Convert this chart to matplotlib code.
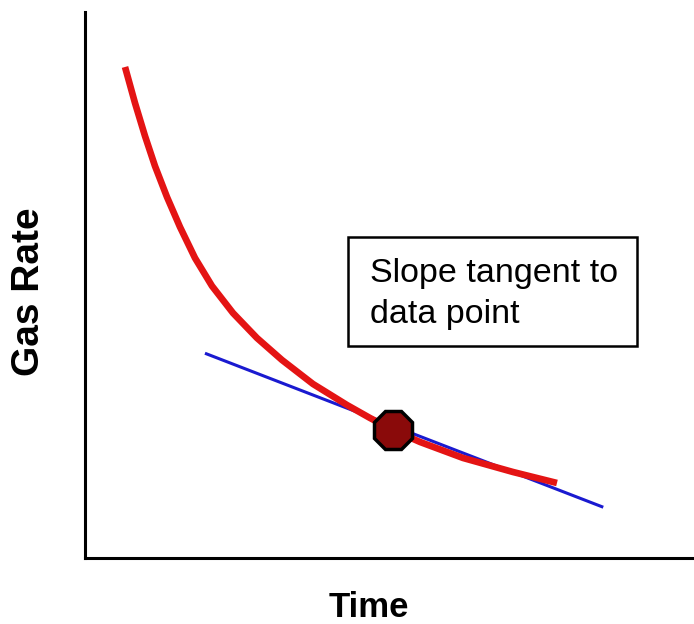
import matplotlib
matplotlib.use("Agg")
import matplotlib.pyplot as plt
from matplotlib.patches import Rectangle

# decline curve (time, gas rate in arbitrary 0-100 units)
curve_t = [6.57, 8.21, 9.85, 11.49, 13.46, 15.60, 18.06, 20.85, 24.30, 28.24,
           32.35, 37.44, 43.02, 46.80, 50.57, 55.01, 62.07, 70.28, 77.50]
curve_q = [89.93, 83.33, 77.29, 71.79, 66.12, 60.62, 54.95, 49.82, 44.87, 40.29,
           36.26, 31.87, 28.02, 25.64, 23.44, 21.25, 18.32, 15.75, 13.74]

# tangent line end points
tan_t = [19.7, 85.1]
tan_q = [37.5, 9.3]

# the data point
pt_t = [50.57]
pt_q = [23.44]

plt.rcParams["font.family"] = ["Liberation Sans", "DejaVu Sans"]

fig = plt.figure(figsize=(6.94, 6.24), dpi=100)
ax = fig.add_axes([85 / 694, 66 / 624, 609 / 694, 546 / 624])
ax.set_xlim(0, 100)
ax.set_ylim(0, 100)

ax.plot(tan_t, tan_q, color="#1a1ad0", lw=2.2, solid_capstyle="butt", zorder=2)
ax.plot(curve_t, curve_q, color="#e41414", lw=4.8, solid_capstyle="butt",
        solid_joinstyle="round", zorder=3)
ax.plot(pt_t, pt_q, "8", ms=30, color="#8a0a0a", mec="black", mew=2.5, zorder=4)

# annotation box
fig.patches.append(Rectangle((348 / 694, 1 - 346 / 624), 289 / 694, 109 / 624,
                             transform=fig.transFigure, fc="white", ec="black",
                             lw=1.8, zorder=5))
fig.text(370 / 694, 1 - 282 / 624, "Slope tangent to", fontsize=24.5,
         ha="left", va="baseline", zorder=6)
fig.text(370 / 694, 1 - 323 / 624, "data point", fontsize=24.5,
         ha="left", va="baseline", zorder=6)

for s in ("top", "right"):
    ax.spines[s].set_visible(False)
for s in ("left", "bottom"):
    ax.spines[s].set_linewidth(2.2)
ax.set_xticks([])
ax.set_yticks([])

fig.text(369 / 694, 1 - 617 / 624, "Time", fontsize=25, fontweight="bold",
         ha="center", va="baseline")
fig.text(29 / 694, 1 - 292 / 624, "Gas Rate", fontsize=28, fontweight="bold",
         ha="center", va="center", rotation=90)

fig.savefig("out.png", dpi=100, facecolor="white")
